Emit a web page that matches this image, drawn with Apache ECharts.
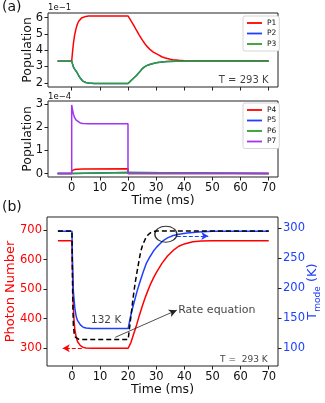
<!DOCTYPE html>
<html><head><meta charset="utf-8">
<script src="https://cdn.jsdelivr.net/npm/echarts@6/dist/echarts.min.js"></script>
<style>html,body{margin:0;padding:0;background:#fff}#c{width:325px;height:403px}</style>
</head><body><div id="c"></div>
<script>
// ---------- data ----------
// Panel (a) top: populations (fraction)
const p1T = [-5,0,0.3,0.6,1,1.5,2,2.5,3,3.5,4,5,6,8,20,20.5,21.3,22,23,24,25,26,27,28,29,30,31,32,33,34,35,36,38,40,43,46,50,70];
const p1V = [0.333,0.333,0.390,0.440,0.490,0.530,0.560,0.578,0.590,0.598,0.603,0.608,0.610,0.611,0.611,0.597,0.575,0.555,0.523,0.493,0.465,0.440,0.419,0.402,0.389,0.379,0.370,0.360,0.354,0.349,0.345,0.342,0.338,0.336,0.3345,0.3337,0.3333,0.3333];
const p2T = [-5,0,0.3,0.6,1,1.5,2,2.5,3,3.5,4,5,6,8,20,20.5,21.3,22,23,24,25,26,27,28,29,30,32,34,37,40,70];
const p2V = [0.333,0.333,0.315,0.298,0.285,0.274,0.260,0.243,0.230,0.218,0.210,0.202,0.198,0.196,0.195,0.202,0.217,0.228,0.245,0.264,0.285,0.299,0.308,0.314,0.319,0.323,0.328,0.331,0.3325,0.333,0.333];
const p3T = [-5,0,0.3,0.6,1,1.5,2,2.5,3,3.5,4,5,6,8,20,20.5,21.3,22,23,24,25,26,27,28,29,30,32,34,37,40,70];
const p3V = [0.333,0.333,0.315,0.298,0.285,0.274,0.260,0.243,0.230,0.218,0.210,0.202,0.198,0.196,0.195,0.202,0.217,0.228,0.245,0.264,0.285,0.299,0.308,0.314,0.319,0.323,0.328,0.331,0.3325,0.333,0.333];
// Panel (a) bottom: small populations
const p4T = [-5,0,0,1,2,4,20,20,70];
const p4V = [0,0,0.12e-4,0.17e-4,0.19e-4,0.20e-4,0.21e-4,0,0];
const p5T = [-5,0,0,20,20,70];
const p5V = [0,0,0.06e-4,0.05e-4,0,0];
const p6T = [-5,0,0,20,20,70];
const p6V = [0,0,0.06e-4,0.05e-4,0,0];
const p7T = [-5,0,0,0.3,0.6,1,1.5,2,3,4,6,20,20,70];
const p7V = [0,0,2.97e-4,2.75e-4,2.58e-4,2.43e-4,2.32e-4,2.25e-4,2.19e-4,2.17e-4,2.15e-4,2.15e-4,0,0];
// Panel (b): photon number (left), T_mode (right), rate equation (dashed, left)
const phT = [-5,0,0.2,0.4,0.7,1,1.5,2,3,4,5,7,20,20.4,21,22,23,24,25,26,27,28,29,30,32,34,36,38,40,43,46,50,70];
const phV = [664,664,560,470,400,365,338,322,309,303,301,300,300,302,320,350,379,412,442,470,495,518,538,556,587,612,631,645,653,660,663,664,664];
const tmT = [-5,0,0.2,0.5,1,1.5,2,3,4,5,7,20,20.7,21.5,22.3,23.1,24,25.4,26.5,27.8,29,30.2,31.5,32.6,34,36,38,41,45,50,70];
const tmV = [295,295,240,195,168,153,146,139,135,134,133,133,150,166,180,194,208,228,242,253,262,269,275,280,284,288,290,292,294,295,295];
const reT = [-5,0,0.15,0.3,0.5,0.8,1.2,1.8,2.5,20,20.5,21,21.5,22,22.5,23,23.5,24,24.5,25,26,27,28,29,30,70];
const reV = [697,697,560,450,380,350,338,332,330,330,370,410,450,488,522,550,577,605,628,645,668,683,691,695,697,697];
// tick values
const timeTicks = [0,10,20,30,40,50,60,70];
const popTicksTop = [0.2,0.3,0.4,0.5,0.6];
const popTicksBot = [0,1e-4,2e-4,3e-4];
const photonTicks = [300,400,500,600,700];
const tmodeTicks = [100,150,200,250,300];

// ---------- chart ----------
const F = 'DejaVu Sans';
const RED = '#ff0000', BLUE = '#2040ff', GREEN = '#2ca02c', PURPLE = '#a335f0';
const zip = (t, v) => t.map((x, i) => [x, v[i]]);
const chart = echarts.init(document.getElementById('c'), null, {renderer: 'canvas'});

function gridBox(left, top, width, height) {
  return {left, top, width, height, show: true, borderColor: '#222', borderWidth: 1,
          backgroundColor: 'transparent', containLabel: false, outerBoundsMode: 'none'};
}
function xAx(gi, min, max, labels) {
  return {type: 'value', gridIndex: gi, min, max,
    axisLine: {show: false, onZero: false}, splitLine: {show: false},
    axisTick: {show: true, length: 3.5, customValues: timeTicks, lineStyle: {color: '#222', width: 1}},
    axisLabel: {show: labels, customValues: timeTicks, fontFamily: F, fontSize: 11.5, color: '#111', margin: 5},
    name: labels ? 'Time (ms)' : '', nameLocation: 'middle', nameGap: 17, nameMoveOverlap: false,
    nameTextStyle: {fontFamily: F, fontSize: 12.5, color: '#111'}};
}
function yAx(gi, min, max, ticks, fmt, color, name, nameGap, pos, nameStyle) {
  return {type: 'value', gridIndex: gi, min, max, position: pos || 'left',
    axisLine: {show: false, onZero: false}, splitLine: {show: false},
    axisTick: {show: true, length: 3.5, customValues: ticks, lineStyle: {color: '#222', width: 1}},
    axisLabel: {customValues: ticks, formatter: fmt, fontFamily: F, fontSize: 11.5, color: color, margin: 5},
    name, nameLocation: 'middle', nameRotate: 90, nameGap, nameMoveOverlap: false,
    nameTextStyle: nameStyle || {fontFamily: F, fontSize: 12.5, color: color}};
}
function line(name, t, v, color, xi, yi, extra) {
  return Object.assign({type: 'line', name, xAxisIndex: xi, yAxisIndex: yi, data: zip(t, v),
    symbol: 'none', showSymbol: false, animation: false,
    lineStyle: {color, width: 1.5}, itemStyle: {color}}, extra || {});
}
function txt(xi, yi, pt, text, pos, size, color) {
  return {type: 'scatter', xAxisIndex: xi, yAxisIndex: yi, data: [pt], symbolSize: 1, silent: true,
    itemStyle: {color: 'rgba(0,0,0,0)'}, animation: false, z: 10,
    label: {show: true, formatter: text, position: pos, distance: 0, fontFamily: F, fontSize: size, color: color || '#111'}};
}
const legendBase = {orient: 'vertical', icon: 'rect', itemWidth: 15, itemHeight: 1.8, itemGap: 2.5,
  padding: [3, 3, 3, 4], borderColor: '#cccccc', borderWidth: 0.8, borderRadius: 2, backgroundColor: '#fff',
  textStyle: {fontFamily: F, fontSize: 7.5, color: '#111', padding: [0, 0, 0, 0]}, selectedMode: false};

const option = {
  animation: false,
  backgroundColor: '#fff',
  grid: [gridBox(48, 13, 230, 74), gridBox(48, 101, 230, 76), gridBox(47, 217, 231, 149)],
  xAxis: [xAx(0, -8.42, 73.3, false), xAx(1, -8.42, 73.3, true), xAx(2, -8.88, 73.3, true)],
  yAxis: [
    yAx(0, 0.174, 0.629, popTicksTop, v => String(Math.round(v * 10)), '#111', 'Population', 14),
    yAx(1, -0.15e-4, 3.14e-4, popTicksBot, v => String(Math.round(v * 1e4)), '#111', 'Population', 14),
    yAx(2, 240, 744, photonTicks, v => String(v), RED, 'Photon Number', 30, 'left',
        {fontFamily: F, fontSize: 13, color: RED}),
    yAx(2, 70.5, 318.8, tmodeTicks, v => String(v), BLUE, '{a|T}{s|mode}{a| (K)}', 26, 'right',
        {fontFamily: F, fontSize: 13, color: BLUE,
         rich: {a: {fontFamily: F, fontSize: 13, color: BLUE, lineHeight: 18, verticalAlign: 'middle'},
                s: {fontFamily: F, fontSize: 9, color: BLUE, lineHeight: 18, verticalAlign: 'bottom'}}})
  ],
  legend: [
    Object.assign({}, legendBase, {data: ['P1', 'P2', 'P3'], left: 243, top: 16}),
    Object.assign({}, legendBase, {data: ['P4', 'P5', 'P6', 'P7'], left: 243, top: 103})
  ],
  graphic: [
    {type: 'text', left: 2, top: 0, style: {text: '(a)', font: '14px "DejaVu Sans"', fill: '#111'}},
    {type: 'text', left: 2, top: 200, style: {text: '(b)', font: '14px "DejaVu Sans"', fill: '#111'}},
    {type: 'text', left: 48, top: 3, style: {text: '1e\u22121', font: '8.5px "DejaVu Sans"', fill: '#111'}},
    {type: 'text', left: 48, top: 92, style: {text: '1e\u22124', font: '8.5px "DejaVu Sans"', fill: '#111'}}
  ],
  series: [
    line('P1', p1T, p1V, RED, 0, 0),
    line('P2', p2T, p2V, BLUE, 0, 0),
    line('P3', p3T, p3V, GREEN, 0, 0),
    txt(0, 0, [70.1, 0.2166], 'T = 293 K', 'left', 10),
    line('P4', p4T, p4V, RED, 1, 1),
    line('P5', p5T, p5V, BLUE, 1, 1),
    line('P6', p6T, p6V, GREEN, 1, 1),
    line('P7', p7T, p7V, PURPLE, 1, 1),
    line('Photon', phT, phV, RED, 2, 2, {markLine: {silent: true, animation: false, symbol: ['none', 'arrow'], symbolSize: [6, 7],
      label: {show: false}, lineStyle: {color: RED, type: [4, 2], width: 1.2},
      data: [[{coord: [3.5, 300]}, {coord: [-3.3, 300]}]]}}),
    line('Tmode', tmT, tmV, BLUE, 2, 3, {markLine: {silent: true, animation: false, symbol: ['none', 'arrow'], symbolSize: [6, 7],
      label: {show: false}, lineStyle: {color: BLUE, type: [4, 2], width: 1.2},
      data: [[{coord: [37.3, 287]}, {coord: [48.5, 287]}]]}}),
    line('Rate', reT, reV, '#000', 2, 2, {lineStyle: {color: '#000', width: 1.5, type: [5, 3]},
      markLine: {silent: true, animation: false, symbol: ['none', 'arrow'], symbolSize: [6, 8],
      label: {show: false}, lineStyle: {color: '#222', type: 'solid', width: 0.8},
      data: [[{coord: [15.4, 337]}, {coord: [37.3, 429]}]]}}),
    {type: 'scatter', xAxisIndex: 2, yAxisIndex: 2, data: [[33.4, 686]], symbol: 'circle', symbolSize: [22, 16],
      silent: true, animation: false, z: 6,
      itemStyle: {color: 'rgba(0,0,0,0)', borderColor: '#000', borderWidth: 1.2}},
    txt(2, 2, [6.6, 396], '132 K', 'right', 10.5),
    txt(2, 2, [37.6, 428], 'Rate equation', 'right', 11),
    txt(2, 2, [69.8, 263], 'T =  293 K', 'left', 9)
  ]
};
chart.setOption(option);
</script>
</body></html>
